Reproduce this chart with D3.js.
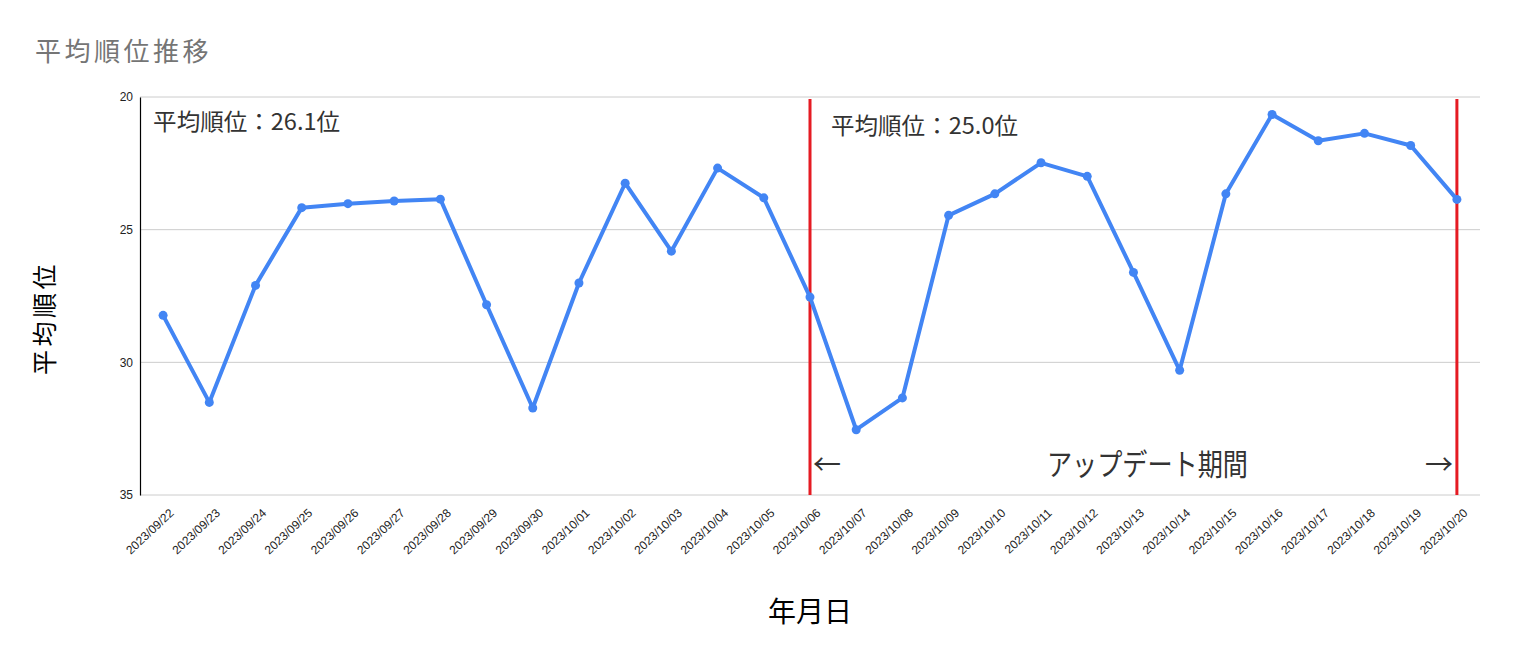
<!DOCTYPE html>
<html>
<head>
<meta charset="utf-8">
<script src="https://cdn.jsdelivr.net/npm/d3@7"></script>
<style>
  body { margin: 0; background: #fff; }
  svg { display: block; }
</style>
</head>
<body>
<svg width="1514" height="663"></svg>
<script>
// data
const dates = ["2023/09/22","2023/09/23","2023/09/24","2023/09/25","2023/09/26","2023/09/27","2023/09/28",
  "2023/09/29","2023/09/30","2023/10/01","2023/10/02","2023/10/03","2023/10/04","2023/10/05","2023/10/06",
  "2023/10/07","2023/10/08","2023/10/09","2023/10/10","2023/10/11","2023/10/12","2023/10/13","2023/10/14",
  "2023/10/15","2023/10/16","2023/10/17","2023/10/18","2023/10/19","2023/10/20"];
const avgRank = [28.23,31.51,27.10,24.17,24.02,23.92,23.85,27.83,31.72,27.01,23.25,25.81,22.68,23.80,27.54,
  32.54,31.34,24.46,23.65,22.48,22.99,26.61,30.30,23.65,20.66,21.65,21.37,21.83,23.86];
const yTicks = [20, 25, 30, 35];
const updateMarks = ["2023/10/06", "2023/10/20"];
const notes = [
  {date: "2023/09/22", text: "平均順位：26.1位"},
  {date: "2023/10/06", text: "平均順位：25.0位"}
];

const svg = d3.select('svg');
const plotLeft = 140, plotRight = 1480, plotTop = 97, plotBottom = 495;

const x = d3.scalePoint().domain(dates).range([plotLeft, plotRight]).padding(0.5);
const y = d3.scaleLinear().domain([20, 35]).range([plotTop, plotBottom]);

// gridlines
svg.append('g')
  .selectAll('line')
  .data(yTicks)
  .join('line')
  .attr('x1', plotLeft).attr('x2', plotRight)
  .attr('y1', d => y(d)).attr('y2', d => y(d))
  .attr('stroke', '#cccccc')
  .attr('stroke-width', 1);

// y axis
const yAxis = svg.append('g')
  .attr('transform', `translate(${plotLeft},0)`)
  .call(d3.axisLeft(y).tickValues(yTicks).tickSize(0).tickPadding(7));
yAxis.select('.domain').attr('stroke', '#000').attr('stroke-width', 1.2);
yAxis.selectAll('text')
  .attr('font-family', 'Arial, "Liberation Sans", sans-serif')
  .attr('font-size', 12)
  .attr('fill', '#222');

// x axis labels
const xAxis = svg.append('g')
  .attr('transform', `translate(0,${plotBottom})`)
  .call(d3.axisBottom(x).tickSize(0));
xAxis.select('.domain').remove();
xAxis.selectAll('text')
  .attr('font-family', 'Arial, "Liberation Sans", sans-serif')
  .attr('font-size', 12)
  .attr('fill', '#222')
  .attr('text-anchor', 'end')
  .attr('dy', 0)
  .attr('y', 0)
  .attr('transform', 'translate(11,19) rotate(-43)');

// red update lines
svg.append('g')
  .selectAll('line')
  .data(updateMarks)
  .join('line')
  .attr('x1', d => x(d)).attr('x2', d => x(d))
  .attr('y1', plotTop + 2).attr('y2', plotBottom)
  .attr('stroke', '#e51b23')
  .attr('stroke-width', 3);

// line
const line = d3.line()
  .x((d, i) => x(dates[i]))
  .y(d => y(d));

svg.append('path')
  .datum(avgRank)
  .attr('fill', 'none')
  .attr('stroke', '#4285f4')
  .attr('stroke-width', 4)
  .attr('stroke-linejoin', 'round')
  .attr('d', line);

svg.append('g')
  .selectAll('circle')
  .data(avgRank)
  .join('circle')
  .attr('cx', (d, i) => x(dates[i]))
  .attr('cy', d => y(d))
  .attr('r', 4.5)
  .attr('fill', '#4285f4');

// annotation texts
const jp = '"Noto Sans CJK JP", "Noto Sans", sans-serif';
svg.append('g')
  .selectAll('text')
  .data(notes)
  .join('text')
  .attr('x', (d, i) => x(d.date) + (i === 0 ? -10 : 21))
  .attr('y', (d, i) => i === 0 ? 130 : 134)
  .attr('font-family', jp)
  .attr('font-size', 23)
  .attr('fill', '#333')
  .attr('textLength', 187)
  .attr('lengthAdjust', 'spacingAndGlyphs')
  .text(d => d.text);

svg.append('text')
  .attr('x', x(updateMarks[0]) + 3).attr('y', 475)
  .attr('font-family', jp).attr('font-size', 28).attr('fill', '#333')
  .text('←');
svg.append('text')
  .attr('x', x(updateMarks[1]) - 4).attr('y', 475)
  .attr('text-anchor', 'end')
  .attr('font-family', jp).attr('font-size', 28).attr('fill', '#333')
  .text('→');
svg.append('text')
  .attr('x', 1047).attr('y', 475)
  .attr('font-family', jp).attr('font-size', 30).attr('fill', '#333')
  .attr('textLength', 201)
  .attr('lengthAdjust', 'spacingAndGlyphs')
  .text('アップデート期間');

// titles
svg.append('text')
  .attr('x', 35).attr('y', 61)
  .attr('font-family', jp).attr('font-size', 26).attr('fill', '#757575')
  .attr('letter-spacing', 3.5)
  .text('平均順位推移');

svg.append('text')
  .attr('transform', 'translate(54,318) rotate(-90)')
  .attr('text-anchor', 'middle')
  .attr('font-family', jp).attr('font-size', 25).attr('fill', '#000')
  .attr('letter-spacing', 3.5)
  .text('平均順位');

svg.append('text')
  .attr('x', 810).attr('y', 622)
  .attr('text-anchor', 'middle')
  .attr('font-family', jp).attr('font-size', 28).attr('fill', '#000')
  .text('年月日');
</script>
</body>
</html>
